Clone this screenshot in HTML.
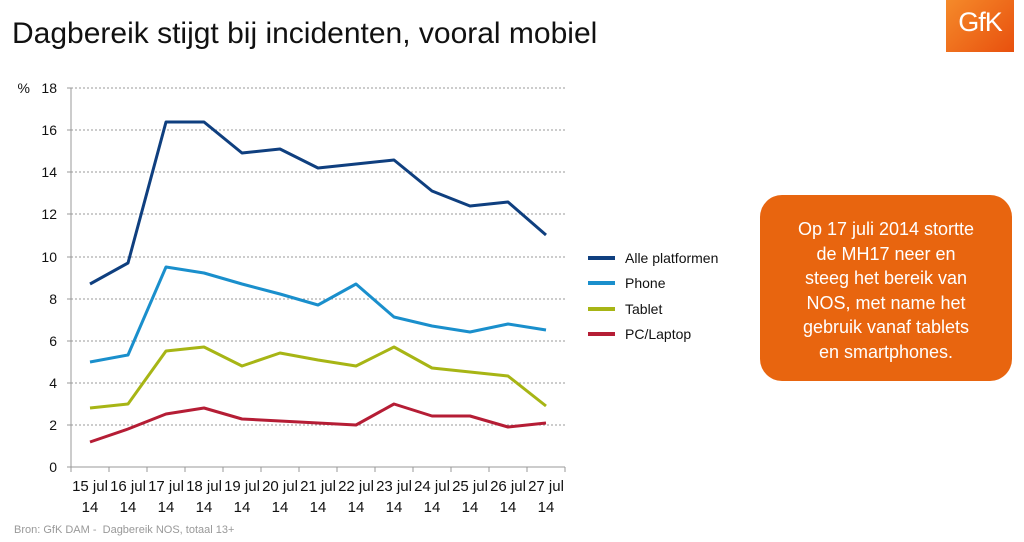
<!DOCTYPE html>
<html><head><meta charset="utf-8"><style>
body{margin:0;width:1024px;height:542px;background:#fff;font-family:"Liberation Sans",sans-serif;overflow:hidden;position:relative}
.t{position:absolute;left:12px;top:17px;font-size:30px;color:#111}
.logo{position:absolute;left:946px;top:0;width:68px;height:52px;background:linear-gradient(135deg,#f58a2a,#e8500e);color:#fff;font-size:27px;text-align:center;line-height:44px;letter-spacing:-1px}
.box{position:absolute;left:760px;top:195px;width:252px;height:186px;border-radius:22px;background:#e8650f;color:#fff;font-size:18px;line-height:24.5px;text-align:center;box-sizing:border-box;padding-top:22px}
.src{position:absolute;left:14px;top:524px;font-size:11px;color:#999}
</style></head><body>
<div class="t">Dagbereik stijgt bij incidenten, vooral mobiel</div>
<div class="logo">GfK</div>
<svg width="1024" height="542" style="position:absolute;left:0;top:0" font-family="Liberation Sans, sans-serif">
<g stroke="#999" stroke-dasharray="2,2" stroke-width="1">
<line x1="71" x2="565" y1="88" y2="88"/><line x1="71" x2="565" y1="130" y2="130"/><line x1="71" x2="565" y1="172" y2="172"/><line x1="71" x2="565" y1="214" y2="214"/><line x1="71" x2="565" y1="257" y2="257"/><line x1="71" x2="565" y1="299" y2="299"/><line x1="71" x2="565" y1="341" y2="341"/><line x1="71" x2="565" y1="383" y2="383"/><line x1="71" x2="565" y1="425" y2="425"/>
</g>
<g stroke="#999" stroke-width="1"><line x1="71" y1="88" x2="71" y2="467"/><line x1="71" y1="467" x2="565" y2="467"/>
<path d="M67 88h4M67 130h4M67 172h4M67 214h4M67 257h4M67 299h4M67 341h4M67 383h4M67 425h4M67 467h4M71 467v5M109 467v5M147 467v5M185 467v5M223 467v5M261 467v5M299 467v5M337 467v5M375 467v5M413 467v5M451 467v5M489 467v5M527 467v5M565 467v5"/></g>
<g font-size="14" fill="#111" text-anchor="end">
<text x="57" y="93">18</text><text x="57" y="135">16</text><text x="57" y="177">14</text><text x="57" y="219">12</text><text x="57" y="262">10</text><text x="57" y="304">8</text><text x="57" y="346">6</text><text x="57" y="388">4</text><text x="57" y="430">2</text><text x="57" y="472">0</text>
<text x="30" y="93">%</text></g>
<g font-size="15" fill="#111" text-anchor="middle">
<text x="90" y="491">15 jul</text><text x="128" y="491">16 jul</text><text x="166" y="491">17 jul</text><text x="204" y="491">18 jul</text><text x="242" y="491">19 jul</text><text x="280" y="491">20 jul</text><text x="318" y="491">21 jul</text><text x="356" y="491">22 jul</text><text x="394" y="491">23 jul</text><text x="432" y="491">24 jul</text><text x="470" y="491">25 jul</text><text x="508" y="491">26 jul</text><text x="546" y="491">27 jul</text>
<text x="90" y="512">14</text><text x="128" y="512">14</text><text x="166" y="512">14</text><text x="204" y="512">14</text><text x="242" y="512">14</text><text x="280" y="512">14</text><text x="318" y="512">14</text><text x="356" y="512">14</text><text x="394" y="512">14</text><text x="432" y="512">14</text><text x="470" y="512">14</text><text x="508" y="512">14</text><text x="546" y="512">14</text></g>
<g fill="none" stroke-width="3" stroke-linejoin="round">
<polyline stroke="#0f3f7f" points="90,284 128,263 166,122 204,122 242,153 280,149 318,168 356,164 394,160 432,191 470,206 508,202 546,235"/>
<polyline stroke="#1a8fcc" points="90,362 128,355 166,267 204,273 242,284 280,294 318,305 356,284 394,317 432,326 470,332 508,324 546,330"/>
<polyline stroke="#a7b515" points="90,408 128,404 166,351 204,347 242,366 280,353 318,360 356,366 394,347 432,368 470,372 508,376 546,406"/>
<polyline stroke="#b51d35" points="90,442 128,429 166,414 204,408 242,419 280,421 318,423 356,425 394,404 432,416 470,416 508,427 546,423"/>
</g>
<g stroke-width="4"><line x1="588" x2="615" y1="258" y2="258" stroke="#0f3f7f"/><line x1="588" x2="615" y1="283" y2="283" stroke="#1a8fcc"/><line x1="588" x2="615" y1="309" y2="309" stroke="#a7b515"/><line x1="588" x2="615" y1="334" y2="334" stroke="#b51d35"/></g>
<g font-size="14" fill="#111"><text x="625" y="263">Alle platformen</text><text x="625" y="288">Phone</text><text x="625" y="314">Tablet</text><text x="625" y="339">PC/Laptop</text></g>
</svg>
<div class="box">Op 17 juli 2014 stortte<br>de MH17 neer en<br>steeg het bereik van<br>NOS, met name het<br>gebruik vanaf tablets<br>en smartphones.</div>
<div class="src">Bron: GfK DAM -&nbsp; Dagbereik NOS, totaal 13+</div>
</body></html>
